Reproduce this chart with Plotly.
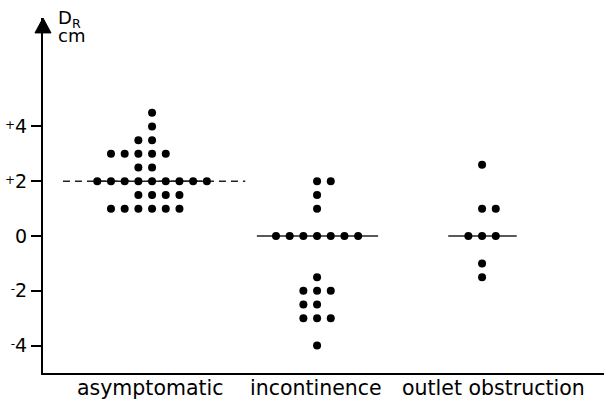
import plotly.graph_objects as go

# ---- data ----
categories = ["asymptomatic", "incontinence", "outlet obstruction"]

asym_values = [4.5, 4, 3.5, 3.5, 3, 3, 3, 3, 3, 2.5, 2.5,
               2, 2, 2, 2, 2, 2, 2, 2, 2,
               1.5, 1.5, 1.5, 1.5,
               1, 1, 1, 1, 1, 1]
asym_slots = [0, 0, -1, 0, -3, -2, -1, 0, 1, -1, 0,
              -4, -3, -2, -1, 0, 1, 2, 3, 4,
              -1, 0, 1, 2,
              -3, -2, -1, 0, 1, 2]

incont_values = [2, 2, 1.5, 1,
                 0, 0, 0, 0, 0, 0, 0,
                 -1.5, -2, -2, -2, -2.5, -2.5, -3, -3, -3, -4]
incont_slots = [0, 1, 0, 0,
                -3, -2, -1, 0, 1, 2, 3,
                0, -1, 0, 1, -1, 0, -1, 0, 1, 0]

outlet_values = [2.6, 1, 1, 0, 0, 0, -1, -1.5]
outlet_slots = [0, 0, 1, -1, 0, 1, 0, 0]

medians = [2, 0, 0]

y_tickvals = [4, 2, 0, -2, -4]
y_ticklabels = ["+4", "+2", "0", "-2", "-4"]

# ---- layout constants ----
FONT = "DejaVu Sans"
SLOT = 0.083                     # horizontal spacing between stacked dots (x units)
median_extent = [(-0.54, 0.565), (-0.365, 0.37), (-0.205, 0.21)]
median_dash = ["7px,5px", "solid", "solid"]
label_shift = [-2, -1, 11]


def tick_html(lbl):
    # small, vertically centred sign before the number (as in the original)
    if lbl[0] in "+-" and len(lbl) > 1:
        return ("<span style='font-size:12px;baseline-shift:4px'>" + lbl[0]
                + "</span>" + lbl[1:])
    return lbl


groups = [(asym_values, asym_slots), (incont_values, incont_slots),
          (outlet_values, outlet_slots)]

fig = go.Figure()

# median lines (dashed beyond the dots where the original is dashed,
# solid through the row of dots sitting on the median)
for i, (med, (lo, hi), dash) in enumerate(zip(medians, median_extent, median_dash)):
    cx = i + 1
    fig.add_trace(go.Scatter(
        x=[cx + lo, cx + hi], y=[med, med], mode="lines",
        line=dict(color="#222", width=1.4, dash=dash),
        hoverinfo="skip", showlegend=False))
    vals, slots = groups[i]
    on_med = [s for v, s in zip(vals, slots) if v == med]
    if dash != "solid" and on_med:
        fig.add_trace(go.Scatter(
            x=[cx + min(on_med) * SLOT, cx + max(on_med) * SLOT], y=[med, med],
            mode="lines", line=dict(color="#222", width=1.4),
            hoverinfo="skip", showlegend=False))

# dots
for i, (vals, slots) in enumerate(groups):
    cx = i + 1
    fig.add_trace(go.Scatter(
        x=[cx + s * SLOT for s in slots], y=vals, mode="markers",
        marker=dict(color="black", size=8, line=dict(width=0)),
        name=categories[i], showlegend=False))

# category labels
annotations = []
for i, cat in enumerate(categories):
    annotations.append(dict(
        x=i + 1, y=0, xref="x", yref="paper", text=cat, showarrow=False,
        xanchor="center", yanchor="top", xshift=label_shift[i], yshift=-1,
        font=dict(family=FONT, size=20.5, color="black")))

# axis title "D_R cm"
annotations.append(dict(
    x=0.024, y=0.998, xref="paper", yref="paper", text="D<sub>R</sub>",
    showarrow=False, xanchor="left", yanchor="middle",
    font=dict(family=FONT, size=18, color="black")))
annotations.append(dict(
    x=0.024, y=0.950, xref="paper", yref="paper", text="cm",
    showarrow=False, xanchor="left", yanchor="middle",
    font=dict(family=FONT, size=18, color="black")))

# arrow head on y axis
shapes = [dict(
    type="path", xref="paper", yref="paper",
    path="M 0,1.0 L -0.0143,0.958 L 0.0143,0.958 Z",
    fillcolor="black", line=dict(color="black", width=1))]

fig.update_layout(
    width=605, height=399,
    margin=dict(l=43, r=1, t=18, b=26, autoexpand=False),
    paper_bgcolor="white", plot_bgcolor="white",
    annotations=annotations, shapes=shapes,
    font=dict(family=FONT, color="black"),
    xaxis=dict(range=[0.339, 3.739], showgrid=False, zeroline=False,
               showticklabels=False, ticks="", showline=True,
               linecolor="black", linewidth=2, automargin=False),
    yaxis=dict(range=[-5, 7.96], showgrid=False, zeroline=False,
               tickvals=y_tickvals,
               ticktext=[tick_html(t) for t in y_ticklabels],
               ticks="outside", ticklen=10, tickwidth=1.5, tickcolor="black",
               showline=True, linecolor="black", linewidth=2, automargin=False,
               tickfont=dict(family=FONT, size=19, color="black")),
)

fig.write_html("out.html")
